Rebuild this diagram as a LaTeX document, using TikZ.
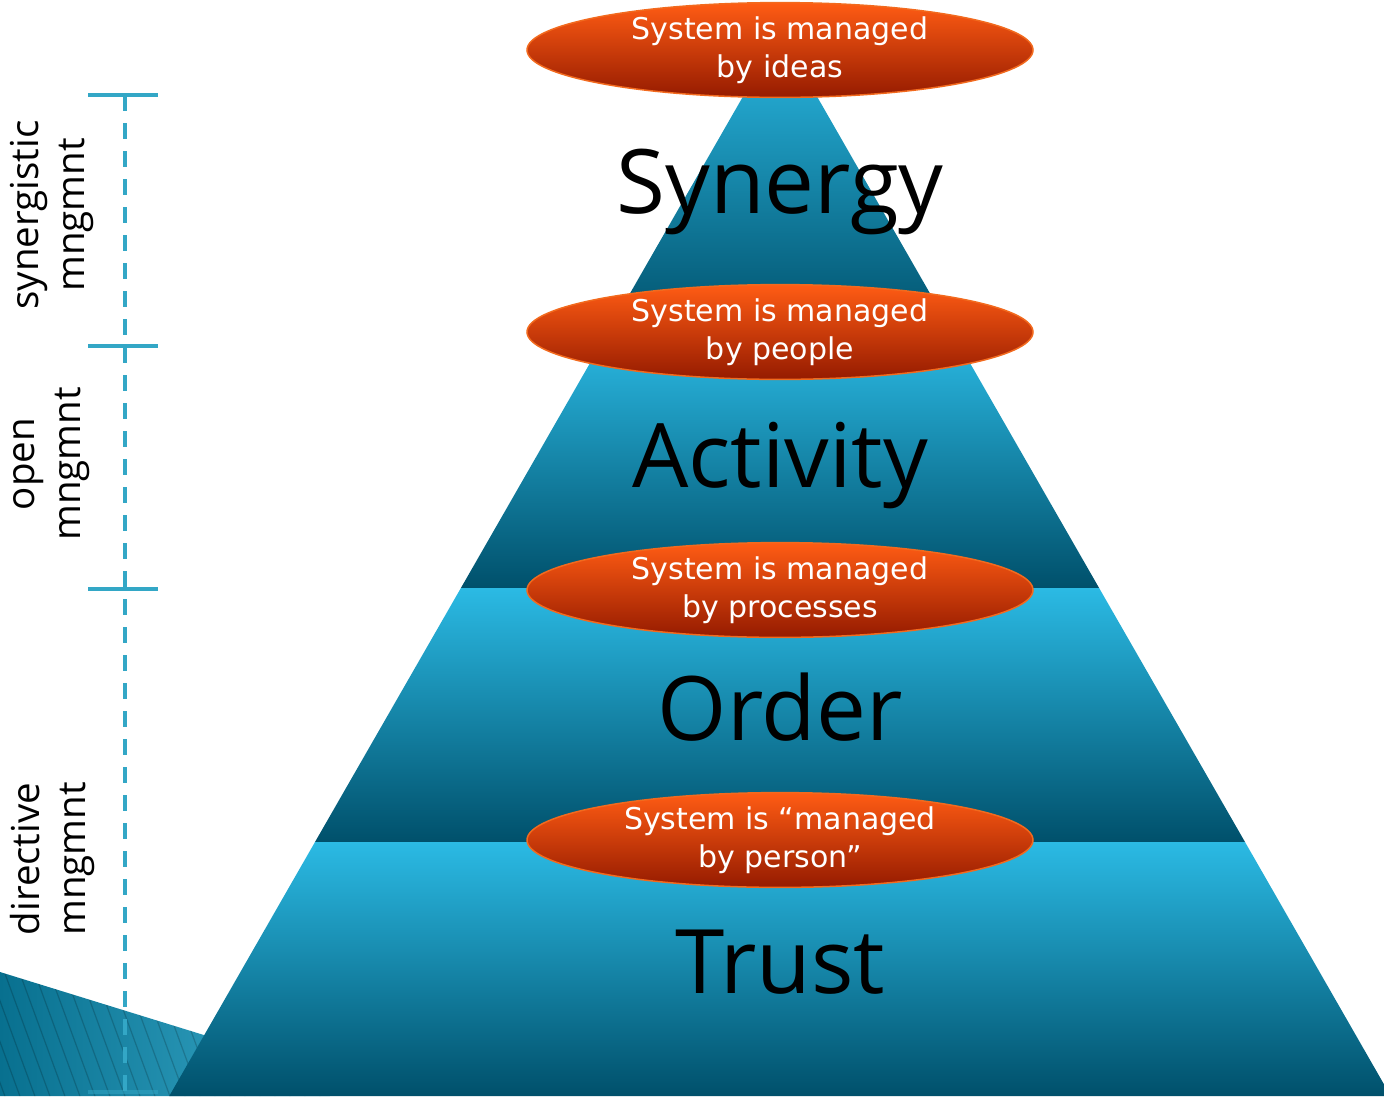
\documentclass[tikz,border=0pt]{standalone}
\usepackage{fontspec}
\setmainfont{Open Sans}
\newfontfamily\ellfont{DejaVu Sans}
\usetikzlibrary{shapes.geometric}
\definecolor{lvltop}{HTML}{2BBAE4}
\definecolor{lvlmid}{HTML}{0589B0}
\definecolor{lvlbot}{HTML}{00506B}
\definecolor{elltop}{HTML}{FF5C14}
\definecolor{ellmid}{HTML}{E03C02}
\definecolor{ellbot}{HTML}{951B00}
\definecolor{ellline}{HTML}{F26A1E}
\definecolor{dashc}{HTML}{33A7C6}
\definecolor{hatchL}{HTML}{08708F}
\definecolor{hatchR}{HTML}{3AAACA}
\tikzset{
  lvl/.style={top color=lvltop, middle color=lvlmid, bottom color=lvlbot, draw=none},
  ell/.style={ellipse, minimum width=506, minimum height=94, inner sep=0pt,
    top color=elltop, middle color=ellmid, bottom color=ellbot,
    draw=ellline, line width=1.5pt, text=white, align=center,
    font=\ellfont\fontsize{30}{38}\selectfont},
  lvltext/.style={anchor=base, text=black, font=\fontsize{89}{92}\selectfont},
  sidetext/.style={rotate=90, align=center, text=black, font=\fontsize{38.5}{46}\selectfont},
  bracketline/.style={dashc, line width=4pt},
  dashline/.style={dashc, line width=3.5pt, dash pattern=on 16pt off 12pt},
}
\begin{document}
\begin{tikzpicture}[x=1pt,y=-1pt]
\useasboundingbox (0,0) rectangle (1384,1096);
% hatched background shape bottom-left
\begin{scope}
  \clip (0,972) -- (330,1074) -- (330,1096) -- (0,1096) -- cycle;
  \shade[left color=hatchL, right color=hatchR] (0,960) rectangle (330,1100);
  \foreach \i in {-30,...,25} \draw[black, opacity=0.18, line width=1.2pt] (\i*15,960) -- ++(55,150);
\end{scope}
% left bracket
\coordinate (b1) at (125,95);
\coordinate (b2) at (125,346);
\coordinate (b3) at (125,589);
\coordinate (b4) at (125,1092);
\draw[dashline] (b1) -- (b4);
\foreach \b in {b1,b2,b3} \draw[bracketline] ([xshift=-37pt]\b) -- ([xshift=33pt]\b);
\draw[bracketline, opacity=0.5] ([xshift=-37pt]b4) -- ([xshift=33pt]b4);
% side labels
\node[sidetext] (lsyn) at (52,215) {synergistic\\mngmnt};
\node[sidetext] (lopen) at (52,464) {open\\mngmnt};
\node[sidetext] (ldir) at (52,859) {directive\\mngmnt};
% pyramid levels
\shade[lvl] (780,32) -- (953.3,334) -- (606.7,334) -- cycle;
\shade[lvl] (606.7,334) -- (953.3,334) -- (1099.1,588) -- (460.9,588) -- cycle;
\shade[lvl] (460.9,588) -- (1099.1,588) -- (1245,842) -- (315,842) -- cycle;
\shade[lvl] (315,842) -- (1245,842) -- (1390.7,1096) -- (169.3,1096) -- cycle;
% level texts
\node[lvltext] (tsyn) at (780,213) {Synergy};
\node[lvltext] (tact) at (780,487) {Activity};
\node[lvltext] (tord) at (780,740) {Order};
\node[lvltext] (ttru) at (780,993) {Trust};
% ellipses
\node[ell] (e1) at (780,50) {System is managed\\by ideas};
\node[ell] (e2) at (780,332) {System is managed\\by people};
\node[ell] (e3) at (780,590) {System is managed\\by processes};
\node[ell] (e4) at (780,840) {System is “managed\\by person”};
\end{tikzpicture}
\end{document}
